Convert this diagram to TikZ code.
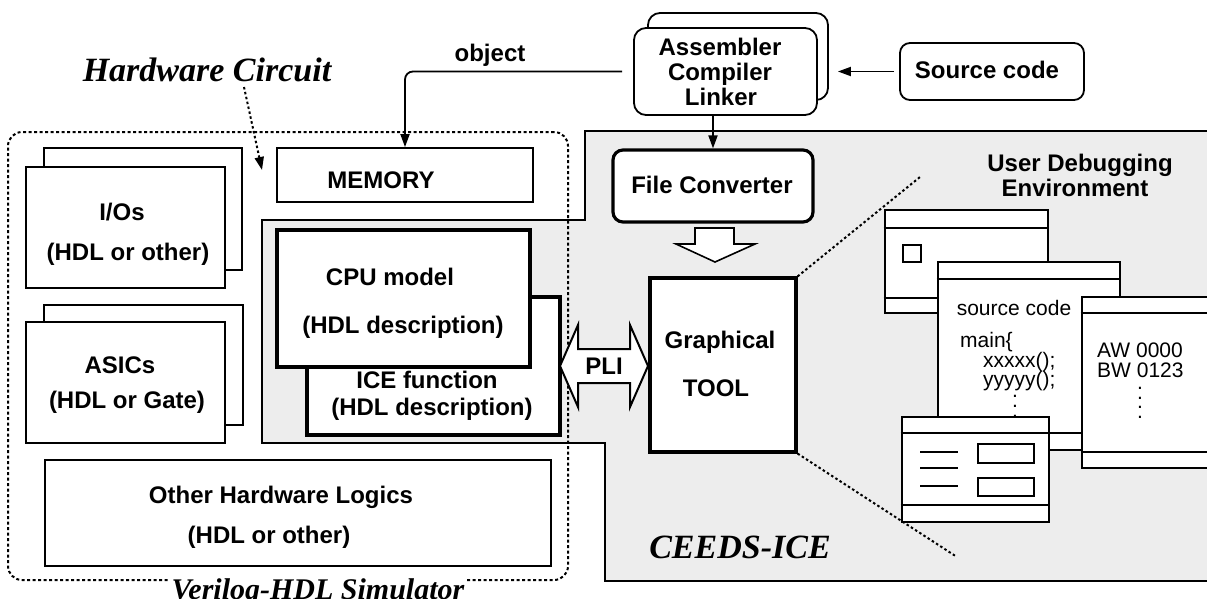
\documentclass[tikz,border=0pt]{standalone}
\usepackage{fontspec}
\setmainfont{Liberation Sans}
\newfontfamily\tmsfam{Liberation Serif}
\usetikzlibrary{arrows.meta,fit}
\begin{document}
\begin{tikzpicture}[x=1pt,y=-1pt,
  lbl/.style={font=\bfseries\fontsize{24}{25}\selectfont, inner sep=0pt, anchor=base},
  pln/.style={font=\fontsize{21}{20}\selectfont, inner sep=0pt, anchor=base},
  ital/.style={font=\tmsfam\bfseries\itshape\fontsize{34}{36}\selectfont, inner sep=0pt, anchor=base},
  thinbox/.style={draw, line width=1.8pt, fill=white, inner sep=0pt},
  thickbox/.style={draw, line width=3.2pt, fill=white, inner sep=0pt},
  winbox/.style={draw, line width=2.6pt, fill=white, inner sep=0pt},
  winline/.style={line width=2pt},
  dashbox/.style={draw, line width=2pt, dash pattern=on 3pt off 2.5pt, rounded corners=14pt, inner sep=0pt},
  dotline/.style={line width=2pt, dash pattern=on 2.5pt off 2.5pt},
  arr/.style={line width=1.8pt, -{Triangle[length=13pt,width=9pt]}},
]
\useasboundingbox (0,0) rectangle (1207,598);

% ---- CEEDS-ICE shaded region
\fill[black!7] (262,220) -- (585,220) -- (585,131) -- (1215,131) -- (1215,581) -- (605,581) -- (605,443) -- (262,443) -- cycle;
\draw[line width=2.2pt] (1215,131) -- (585,131) -- (585,220) -- (262,220) -- (262,443) -- (605,443) -- (605,581) -- (1215,581);

% ---- Verilog-HDL simulator (dashed)
\node[dashbox, fit={(8,132)(568,580)}] (simbox) {};

% ---- hardware blocks
\node[thinbox, fit={(44,148)(242,270)}] (ioback) {};
\node[thinbox, fit={(26,167)(225,288)}] (io) {};
\node[lbl] (iot1) at (122,220.5) {I/Os};
\node[lbl] (iot2) at (128,260.5) {(HDL or other)};

\node[thinbox, fit={(44,305)(243,425)}] (asicback) {};
\node[thinbox, fit={(26,322)(225,443)}] (asic) {};
\node[lbl] (ast1) at (120,373.5) {ASICs};
\node[lbl] (ast2) at (127,408.5) {(HDL or Gate)};

\node[thinbox, fit={(45,460)(551,566)}] (other) {};
\node[lbl] (ot1) at (281,503.5) {Other Hardware Logics};
\node[lbl] (ot2) at (269,543.5) {(HDL or other)};

\node[thinbox, fit={(277,148)(533,202)}] (mem) {};
\node[lbl] (memt) at (381,188.5) {MEMORY};

\node[thickbox, fit={(307,297)(560,435)}] (ice) {};
\node[thickbox, fit={(277,230)(530,367)}] (cpu) {};
\node[lbl] (cput1) at (390,285.5) {CPU model};
\node[lbl] (cput2) at (403,333.5) {(HDL description)};
\node[lbl] (icet1) at (427,388.5) {ICE function};
\node[lbl] (icet2) at (432,415.5) {(HDL description)};

% ---- PLI double arrow
\draw[line width=2pt, fill=white] (560,366) -- (578,325) -- (578,349) -- (630,349) -- (630,325) -- (648,366) -- (630,407) -- (630,383) -- (578,383) -- (578,407) -- cycle;
\node[lbl] (pli) at (604,374.5) {PLI};

% ---- tool chain
\node[thinbox, rounded corners=12pt, fit={(648,13)(828,100)}] (asmback) {};
\node[thinbox, rounded corners=12pt, fit={(634,28)(817,115)}] (asm) {};
\node[lbl] (asmt1) at (720,55.5) {Assembler};
\node[lbl] (asmt2) at (720,80.5) {Compiler};
\node[lbl] (asmt3) at (721,105.5) {Linker};

\node[thinbox, rounded corners=10pt, fit={(900,43)(1084,100)}] (src) {};
\node[lbl] (srct) at (987,78.5) {Source code};

\node[thickbox, rounded corners=10pt, fit={(613,150)(813,222)}] (fc) {};
\node[lbl] (fct) at (712,193.5) {File Converter};

\node[thickbox, fit={(650,278)(796,452)}] (tool) {};
\node[lbl] (toolt1) at (720,348.5) {Graphical};
\node[lbl] (toolt2) at (716,396.5) {TOOL};

% hollow arrow File Converter -> TOOL
\draw[line width=1.6pt, fill=white] (695,228) -- (734,228) -- (734,244) -- (755,244) -- (715,262) -- (676,244) -- (695,244) -- cycle;

% connectors
\draw[arr] ([xshift=-5pt]src.west) -- ([xshift=9pt]asmback.east |- src.west);
\draw[arr] (fc.north |- asm.south) -- (fc.north);
\draw[arr, rounded corners=8pt] ([xshift=-11pt]asm.west) -| (mem.north);
\node[lbl] (objt) at (490,61.5) {object};

% Hardware Circuit label
\node[ital] (hc) at (207,81) {Hardware Circuit};
\coordinate (hcend) at (262,170);
\draw[dotline, -{Triangle[length=13pt,width=9pt]}] ([xshift=37pt,yshift=-6pt]hc.base) -- (hcend);

% zoom lines
\coordinate (zt) at (920,177);
\coordinate (zb) at (957,557);
\draw[dotline] (tool.north east) -- (zt);
\draw[dotline] (tool.south east) -- (zb);

\node[lbl] (ude1) at (1080,171.5) {User Debugging};
\node[lbl] (ude2) at (1075,196.5) {Environment};

% ---- windows
\node[winbox, fit={(885,210)(1048,313)}] (w1) {};
\draw[winline] (w1.west |- 0,228) -- (w1.east |- 0,228);
\draw[winline] (w1.west |- 0,298) -- (w1.east |- 0,298);
\node[draw, line width=1.8pt, inner sep=0pt, fit={(903,245)(921,262)}] (w1sq) {};

\node[winbox, fit={(938,262)(1120,450)}] (w2) {};
\draw[winline] (w2.west |- 0,279) -- (w2.east |- 0,279);
\draw[winline] (w2.west |- 0,433) -- (w2.east |- 0,433);
\node[pln] (w2t0) at (1014,315) {source code};
\node[pln, anchor=base west] (w2t1) at (960,347) {main\{};
\node[pln, anchor=base west] (w2t2) at (983,367) {xxxxx();};
\node[pln, anchor=base west] (w2t3) at (983,386) {yyyyy();};
\node[pln, anchor=north] (w2dots) at (1015,395) {\vbox{\baselineskip=10pt\hbox{.}\hbox{.}\hbox{.}}};

\node[winbox, fit={(1082,297)(1215,468)}] (w3) {};
\draw[winline] (w3.west |- 0,313) -- (w3.east |- 0,313);
\draw[winline] (w3.west |- 0,452) -- (w3.east |- 0,452);
\node[pln, anchor=base west] (w3t1) at (1097,357) {AW 0000};
\node[pln, anchor=base west] (w3t2) at (1097,377) {BW 0123};
\node[pln, anchor=north] (w3dots) at (1140,387) {\vbox{\baselineskip=9.7pt\hbox{.}\hbox{.}\hbox{.}\hbox{.}}};

\node[winbox, fit={(902,417)(1049,522)}] (w4) {};
\draw[winline] (w4.west |- 0,433) -- (w4.east |- 0,433);
\draw[winline] (w4.west |- 0,505) -- (w4.east |- 0,505);
\draw[winline] (920,452) -- (958,452);
\draw[winline] (920,468) -- (958,468);
\draw[winline] (920,486) -- (958,486);
\node[draw, line width=1.8pt, inner sep=0pt, fit={(978,444)(1034,463)}] (w4f1) {};
\node[draw, line width=1.8pt, inner sep=0pt, fit={(978,478)(1034,496)}] (w4f2) {};

% ---- region titles
\node[ital] (ceeds) at (740,558) {CEEDS-ICE};
\node[ital, font=\tmsfam\bfseries\itshape\fontsize{30}{32}\selectfont, fill=white, inner xsep=2pt, inner ysep=1pt] (simt) at (318,599) {Verilog-HDL Simulator};
\end{tikzpicture}
\end{document}
